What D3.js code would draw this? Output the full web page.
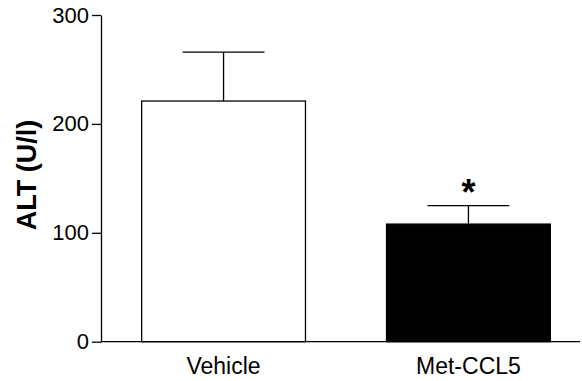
<!DOCTYPE html>
<html><head><meta charset="utf-8">
<script src="https://cdn.jsdelivr.net/npm/d3@7"></script>
<style>body{margin:0;background:#fff}svg{display:block}text{font-family:"Liberation Sans",Arial,sans-serif}</style>
</head><body>
<svg id="c" width="582" height="381"></svg>
<script>
const categories = ["Vehicle", "Met-CCL5"];
const means = [221, 108];
const sems = [45, 17];
const fills = ["#ffffff", "#000000"];
const yTicks = [0, 100, 200, 300];
const significance = ["", "*"];

const svg = d3.select("#c");
const y = d3.scaleLinear().domain([0, 300]).range([341.7, 15]);
const x = d3.scaleBand().domain(categories).range([101, 591]).paddingInner(0.331).paddingOuter(0.166);
const bw = x.bandwidth();
const sw = 1.3;

// bars
svg.selectAll("rect.bar").data(categories).enter().append("rect")
  .attr("x", d => x(d)).attr("width", bw)
  .attr("y", (d,i) => y(means[i])).attr("height", (d,i) => y(0) - y(means[i]))
  .attr("fill", (d,i) => fills[i]).attr("stroke", "#000").attr("stroke-width", sw);

// error bars
categories.forEach((c,i) => {
  const cx = x(c) + bw/2;
  svg.append("line").attr("x1", cx).attr("x2", cx).attr("y1", y(means[i])).attr("y2", y(means[i]+sems[i]))
    .attr("stroke", "#000").attr("stroke-width", sw);
  svg.append("line").attr("x1", cx - bw/4).attr("x2", cx + bw/4).attr("y1", y(means[i]+sems[i])).attr("y2", y(means[i]+sems[i]))
    .attr("stroke", "#000").attr("stroke-width", sw);
  if (significance[i]) {
    svg.append("text").attr("x", cx).attr("y", y(means[i]+sems[i]) - 1).attr("text-anchor", "middle")
      .attr("font-size", 36).attr("font-weight", "bold").text(significance[i]);
  }
});

// y axis
const yAxis = svg.append("g").attr("transform", "translate(101,0)")
  .call(d3.axisLeft(y).tickValues(yTicks).tickSize(9).tickPadding(3).tickSizeOuter(0));
yAxis.select(".domain").attr("stroke-width", sw);
yAxis.selectAll(".tick line").attr("stroke-width", sw);
yAxis.selectAll("text").attr("font-size", 22).attr("font-family", '"Liberation Sans",Arial,sans-serif').attr("fill", "#000");

// x axis line
svg.append("line").attr("x1", 101).attr("x2", 580).attr("y1", y(0)).attr("y2", y(0))
  .attr("stroke", "#000").attr("stroke-width", sw);
svg.selectAll("text.xl").data(categories).enter().append("text")
  .attr("x", d => x(d) + bw/2).attr("y", 374).attr("text-anchor", "middle")
  .attr("font-size", 23).text(d => d);

// y title
svg.append("text").attr("transform", "translate(36,175) rotate(-90)").attr("text-anchor", "middle")
  .attr("font-size", 27).attr("font-weight", "bold").text("ALT (U/l)");
</script>
</body></html>
